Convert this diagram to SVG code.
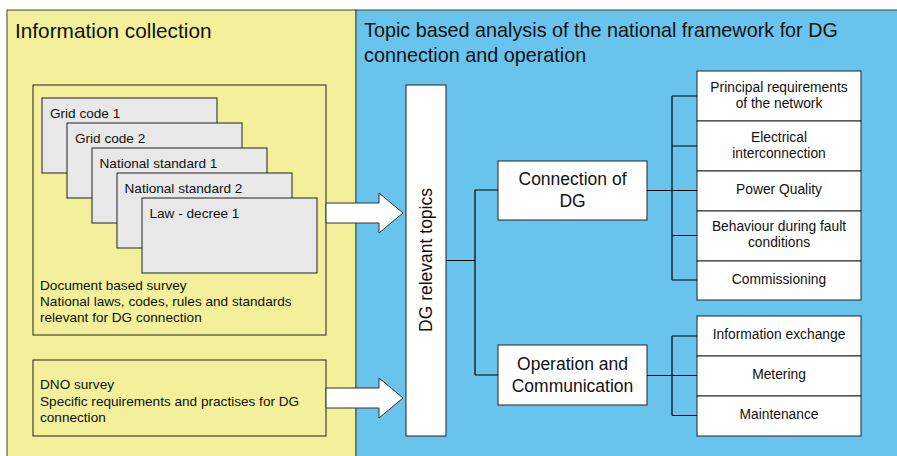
<svg xmlns="http://www.w3.org/2000/svg" width="897" height="456" viewBox="0 0 897 456">
<style>
text{font-family:"Liberation Sans",Arial,sans-serif;fill:#111}
.panel{stroke:#444;stroke-width:1}
.card{fill:#e8e8e8;stroke:#222;stroke-width:1}
.box{fill:#fff;stroke:#222;stroke-width:1}
.frame{fill:none;stroke:#222;stroke-width:1}
.t13{font-size:13.6px}
.t14{font-size:13.8px}
.t17{font-size:17.5px}
.mid{text-anchor:middle}
.line{stroke:#000;stroke-width:1.2;fill:none}
.arrow{fill:#fff;stroke:#333;stroke-width:1}
</style>
<g id="panel-info">
<rect class="panel" x="7" y="10" width="349" height="452" fill="#f2f09b"/>
<text x="15" y="37.5" font-size="20.8">Information collection</text>
</g>
<g id="panel-topic">
<rect class="panel" x="356" y="10" width="545" height="452" fill="#68c4ec"/>
<text x="364" y="37" font-size="19.8">Topic based analysis of the national framework for DG</text>
<text x="364" y="61.5" font-size="19.8">connection and operation</text>
</g>
<g id="document-survey">
<rect class="frame" x="33" y="85" width="293" height="250"/>
<text class="t13" x="40" y="290">Document based survey</text>
<text class="t13" x="40" y="306">National laws, codes, rules and standards</text>
<text class="t13" x="40" y="322">relevant for DG connection</text>
</g>
<g id="card-grid-code-1">
<rect class="card" x="42" y="98" width="175" height="75"/>
<text class="t13" x="50" y="117.5">Grid code 1</text>
</g>
<g id="card-grid-code-2">
<rect class="card" x="67" y="123" width="175" height="75"/>
<text class="t13" x="75" y="142.5">Grid code 2</text>
</g>
<g id="card-national-standard-1">
<rect class="card" x="92" y="148" width="175" height="75"/>
<text class="t13" x="99.5" y="167.5">National standard 1</text>
</g>
<g id="card-national-standard-2">
<rect class="card" x="117" y="173" width="175" height="75"/>
<text class="t13" x="124.5" y="192.5">National standard 2</text>
</g>
<g id="card-law-decree-1">
<rect class="card" x="142" y="198" width="175" height="75"/>
<text class="t13" x="149.5" y="217.5">Law - decree 1</text>
</g>
<g id="dno-survey">
<rect class="frame" x="33" y="360" width="293" height="76"/>
<text class="t13" x="40" y="389">DNO survey</text>
<text class="t13" x="40" y="405.5">Specific requirements and practises for DG</text>
<text class="t13" x="40" y="422">connection</text>
</g>
<g id="dg-relevant-topics">
<rect class="box" x="406" y="85" width="40" height="351"/>
<text class="t17 mid" transform="translate(431.5,260) rotate(-90)">DG relevant topics</text>
</g>
<g id="connection-of-dg">
<rect class="box" x="498" y="161" width="149" height="59"/>
<text class="t17 mid" x="572.5" y="185">Connection of</text>
<text class="t17 mid" x="572.5" y="206.5">DG</text>
</g>
<g id="operation-and-communication">
<rect class="box" x="498" y="345" width="149" height="60"/>
<text class="t17 mid" x="572.5" y="370">Operation and</text>
<text class="t17 mid" x="572.5" y="391.5">Communication</text>
</g>
<g id="principal-requirements">
<rect class="box" x="697" y="71" width="164" height="50"/>
<text class="t14 mid" x="779" y="91.5">Principal requirements</text>
<text class="t14 mid" x="779" y="108.3">of the network</text>
</g>
<g id="electrical-interconnection">
<rect class="box" x="697" y="121" width="164" height="50"/>
<text class="t14 mid" x="779" y="141.5">Electrical</text>
<text class="t14 mid" x="779" y="158.3">interconnection</text>
</g>
<g id="power-quality">
<rect class="box" x="697" y="171" width="164" height="40"/>
<text class="t14 mid" x="779" y="194.3">Power Quality</text>
</g>
<g id="behaviour-fault">
<rect class="box" x="697" y="211" width="164" height="50"/>
<text class="t14 mid" x="779" y="230.7">Behaviour during fault</text>
<text class="t14 mid" x="779" y="247.3">conditions</text>
</g>
<g id="commissioning">
<rect class="box" x="697" y="261" width="164" height="39"/>
<text class="t14 mid" x="779" y="284">Commissioning</text>
</g>
<g id="information-exchange">
<rect class="box" x="697" y="316" width="164" height="40"/>
<text class="t14 mid" x="779" y="339.3">Information exchange</text>
</g>
<g id="metering">
<rect class="box" x="697" y="356" width="164" height="40"/>
<text class="t14 mid" x="779" y="379.3">Metering</text>
</g>
<g id="maintenance">
<rect class="box" x="697" y="396" width="164" height="40"/>
<text class="t14 mid" x="779" y="419.3">Maintenance</text>
</g>
<g id="connectors">
<polygon class="arrow" points="326,203 379,203 379,193 403,213 379,233 379,223 326,223"/>
<polygon class="arrow" points="326,388 379,388 379,378 403,398 379,418 379,408 326,408"/>
<path class="line" d="M446 260.5H475M475 190V375M475 190H498M475 375H498"/>
<path class="line" d="M647 190.5H697M672 96V280M672 96H697M672 146H697M672 235.5H697M672 280H697"/>
<path class="line" d="M647 375.5H697M672 336V415.5M672 336H697M672 415.5H697"/>
</g>
</svg>
